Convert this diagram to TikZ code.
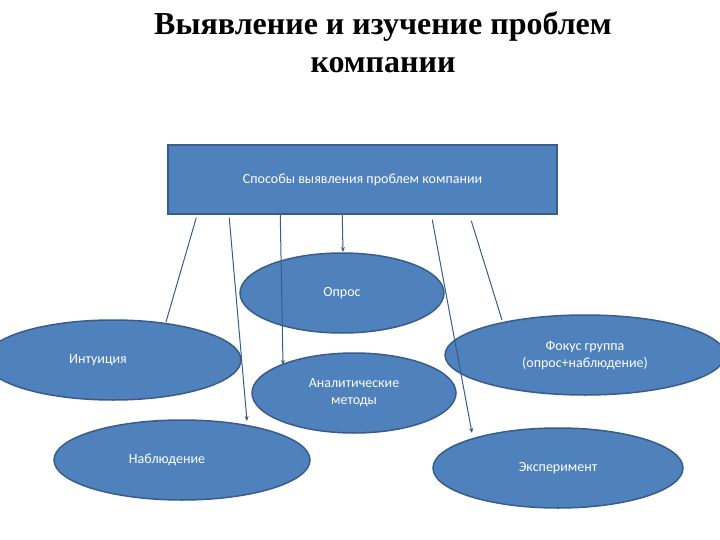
\documentclass[tikz,border=0pt]{standalone}
\usepackage{fontspec}
\setmainfont{Liberation Serif}
\newfontfamily\bodyf{Carlito}
\usetikzlibrary{shapes.geometric,arrows.meta}
\definecolor{fillb}{HTML}{4F81BD}
\definecolor{edgeb}{HTML}{385D8A}
\begin{document}
\begin{tikzpicture}[x=1pt,y=-1pt,
  ell/.style={ellipse,draw=edgeb,line width=1.5pt,fill=fillb,text=white,font=\bodyf\fontsize{14}{17}\selectfont,align=center,inner sep=0pt},
  conn/.style={draw=edgeb,line width=1pt},
  arr/.style={conn,-{Stealth[length=5pt,width=4pt]}}]
\useasboundingbox (0,0) rectangle (720,540);
\begin{scope}
\clip (0,0) rectangle (720,540);
\node[font=\bfseries\fontsize{32}{38}\selectfont,align=center] (title) at (383,42) {Выявление и изучение проблем\\компании};
\node[draw=edgeb,line width=1.5pt,fill=fillb,text=white,minimum width=389pt,minimum height=69pt,font=\bodyf\fontsize{14}{17}\selectfont] (box) at (362.5,179.5) {Способы выявления проблем компании};
\node[ell,minimum width=204pt,minimum height=80pt] (opros) at (342,293) {Опрос};
\node[ell,minimum width=256pt,minimum height=80pt] (intu) at (113,360) {\hspace*{-30pt}Интуиция};
\node[ell,minimum width=204pt,minimum height=80pt] (anal) at (354,393) {Аналитические\\методы};
\node[ell,minimum width=256pt,minimum height=80pt] (nabl) at (182,460) {\hspace*{-30pt}Наблюдение};
\node[ell,minimum width=280pt,minimum height=80pt] (fokus) at (585,355) {Фокус группа\\(опрос+наблюдение)};
\node[ell,minimum width=250pt,minimum height=80pt] (exp) at (558,468) {Эксперимент};
\coordinate (t1) at (166,322);
\coordinate (t2) at (247,421);
\coordinate (t3) at (283,365);
\coordinate (t4) at (343,252);
\coordinate (t5) at (472,433);
\coordinate (t6) at (502,320);
\draw[conn] (box.south west) ++(29,3) -- (t1);
\draw[arr] (box.south west) ++(62,3) -- (t2);
\draw[arr] (box.south west) ++(113,0) -- (t3);
\draw[arr] (box.south west) ++(175,0) -- (t4);
\draw[arr] (box.south west) ++(265,5) -- (t5);
\draw[conn] (box.south west) ++(304,6) -- (t6);
\end{scope}
\end{tikzpicture}
\end{document}
